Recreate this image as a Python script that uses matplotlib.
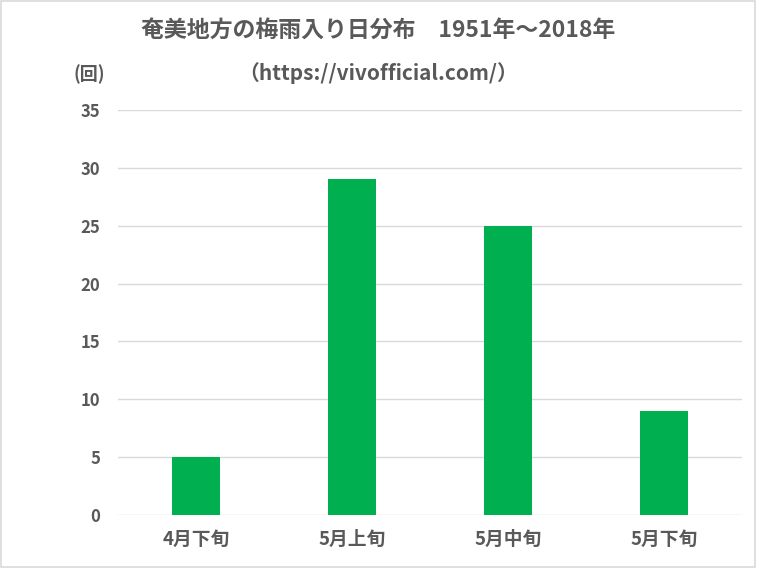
import matplotlib
matplotlib.use("Agg")
import matplotlib.pyplot as plt
from matplotlib.patches import Rectangle

plt.rcParams['font.family'] = ['Noto Sans CJK JP', 'DejaVu Sans']

categories = ["4月下旬", "5月上旬", "5月中旬", "5月下旬"]
counts = [5, 29, 25, 9]
yticks = [0, 5, 10, 15, 20, 25, 30, 35]

TXT = "#595959"
fig = plt.figure(figsize=(7.57, 5.68), dpi=100)
fig.patches.append(Rectangle((0.001, 0.001), 0.997, 0.997, transform=fig.transFigure,
                             fill=False, edgecolor="#D9D9D9", linewidth=1.2))
ax = fig.add_axes([118/757, 1-515/568, 624/757, 405/568])
x = range(len(categories))
ax.bar(x, counts, width=0.31, color="#00B050", zorder=3)
ax.set_xlim(-0.5, 3.5)
ax.set_ylim(0, 35)
ax.set_yticks(yticks)
ax.set_xticks(list(x))
ax.set_xticklabels(categories)
ax.grid(axis='y', color="#D9D9D9", linewidth=1, zorder=0)
for s in ax.spines.values():
    s.set_visible(False)
ax.tick_params(length=0, colors=TXT)
ax.tick_params(axis='x', labelsize=13.5, pad=11)
ax.tick_params(axis='y', labelsize=12, pad=13)
for lab in ax.get_xticklabels() + ax.get_yticklabels():
    lab.set_fontweight('bold')

fig.text(378/757, 1-30/568, "奄美地方の梅雨入り日分布　1951年～2018年", ha='center', va='center',
         fontsize=16.5, fontweight='bold', color=TXT)
fig.text(378/757, 1-73/568, "（https://vivofficial.com/）", ha='center', va='center',
         fontsize=15, fontweight='bold', color=TXT)
fig.text(89/757, 1-74/568, "(回)", ha='center', va='center',
         fontsize=13, fontweight='bold', color=TXT)

fig.savefig("out.png", dpi=100)
